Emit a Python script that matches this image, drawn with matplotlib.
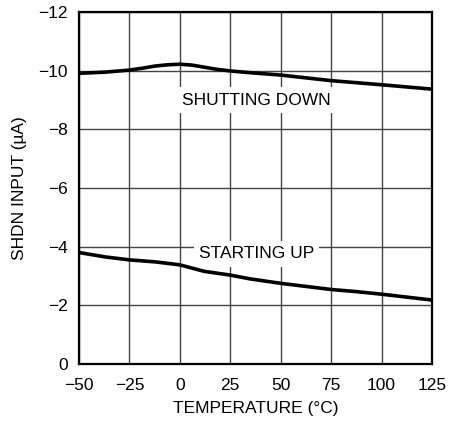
import numpy as np
import matplotlib.pyplot as plt

plt.rcParams['font.family'] = ['Liberation Sans', 'DejaVu Sans']

# shutting down curve
tempDown = [-50, -37, -25, -18, -12, -6, 0, 6, 12, 18, 25, 35, 50, 75, 100, 125]
currDown = [-9.91, -9.95, -10.02, -10.09, -10.16, -10.20, -10.22, -10.19, -10.12, -10.05, -9.99, -9.93,
            -9.85, -9.66, -9.52, -9.37]

# starting up curve
tempUp = [-50, -37, -25, -12, 0, 12, 25, 35, 50, 75, 87, 100, 125]
currUp = [-3.80, -3.65, -3.55, -3.48, -3.38, -3.16, -3.03, -2.90, -2.75, -2.54, -2.47, -2.38, -2.18]

xTicks = [-50, -25, 0, 25, 50, 75, 100, 125]
yTicks = [0, -2, -4, -6, -8, -10, -12]

fig = plt.figure(figsize=(4.61, 4.22), dpi=100)
ax = fig.add_axes([79/461, (422-364)/422, (432-79)/461, (364-12)/422])

ax.plot(tempDown, currDown, color='black', lw=2.6, solid_capstyle='butt', solid_joinstyle='round', zorder=3)
ax.plot(tempUp, currUp, color='black', lw=2.6, solid_capstyle='butt', solid_joinstyle='round', zorder=3)

ax.set_xlim(-50, 125)
ax.set_ylim(0, -12)
ax.set_xticks(xTicks)
ax.set_yticks(yTicks)
ax.tick_params(length=0, labelsize=12.5)
ax.tick_params(axis='y', pad=8)
ax.tick_params(axis='x', pad=10)
ax.grid(True, color='#444444', lw=1.0)
for s in ax.spines.values():
    s.set_linewidth(1.6)

bb = dict(boxstyle='square,pad=0.3', fc='white', ec='none')
ax.text(38, -9.0, 'SHUTTING DOWN', fontsize=12.5, ha='center', va='center', bbox=bb, zorder=2)
ax.text(38, -3.75, 'STARTING UP', fontsize=12.5, ha='center', va='center', bbox=bb, zorder=2)

ax.set_xlabel('TEMPERATURE (°C)', fontsize=12.5, labelpad=6)
ax.set_ylabel('SHDN INPUT (µA)', fontsize=12.5, labelpad=8)

fig.savefig('out.png', dpi=100)
